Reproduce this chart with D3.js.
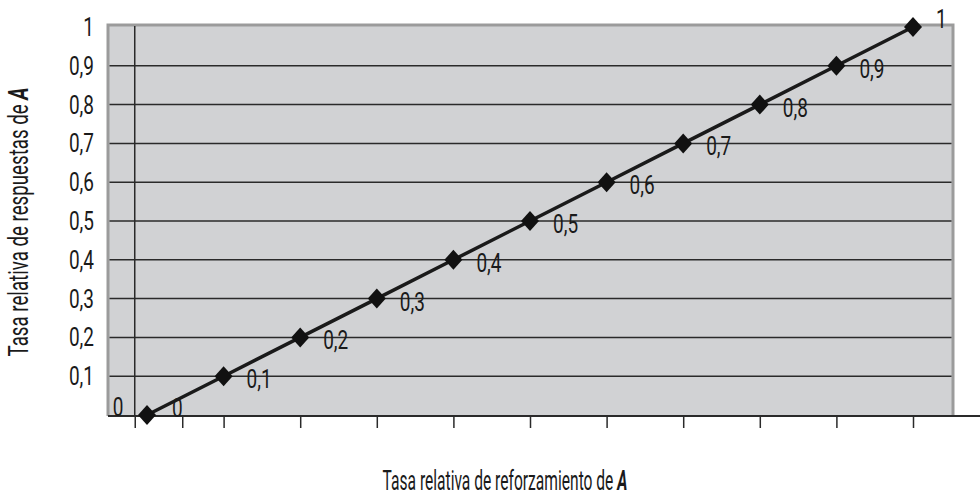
<!DOCTYPE html>
<html><head><meta charset="utf-8">
<script src="https://cdn.jsdelivr.net/npm/d3@7"></script>
<style>
html,body{margin:0;padding:0;background:#fff;}
svg{display:block;}
text{font-family:Roboto,"DejaVu Sans Condensed",sans-serif;fill:#1a1a1a;}
</style></head>
<body>
<svg id="c" width="980" height="497"></svg>
<script>
// Data
const xValues = [0, 0.1, 0.2, 0.3, 0.4, 0.5, 0.6, 0.7, 0.8, 0.9, 1];
const yValues = [0, 0.1, 0.2, 0.3, 0.4, 0.5, 0.6, 0.7, 0.8, 0.9, 1];
const pointLabels = ["0", "0,1", "0,2", "0,3", "0,4", "0,5", "0,6", "0,7", "0,8", "0,9", "1"];
const yTickValues = [0, 0.1, 0.2, 0.3, 0.4, 0.5, 0.6, 0.7, 0.8, 0.9, 1];
const yTickLabels = ["0", "0,1", "0,2", "0,3", "0,4", "0,5", "0,6", "0,7", "0,8", "0,9", "1"];
const xTickValues = [-0.016, 0.046, 0.1, 0.2, 0.3, 0.4, 0.5, 0.6, 0.7, 0.8, 0.9, 1];
const xTitle = "Tasa relativa de reforzamiento de ";
const yTitle = "Tasa relativa de respuestas de ";
const titleVar = "A";

const svg = d3.select("#c");
const plot = {left: 108, right: 953, top: 25, bottom: 416};
const SX = 0.76;      // horizontal condensing of the label font
const FS = 25;

const x = d3.scaleLinear().domain([0, 1]).range([147, 913]);
const y = d3.scaleLinear().domain([0, 1]).range([415, 27]);

// condensed text helper
function ctext(parent, px, py, str, anchor) {
  const g = parent.append("g").attr("transform", `translate(${px},${py}) scale(${SX},1)`);
  g.append("text").attr("text-anchor", anchor).attr("dy", "0.36em")
    .attr("font-size", FS).attr("font-weight", 400).text(str);
  return g;
}

// plot background
svg.append("rect").attr("x", plot.left).attr("y", plot.top)
  .attr("width", plot.right - plot.left).attr("height", plot.bottom - plot.top)
  .attr("fill", "#d1d2d4");
// gray frame (left, top, right)
svg.append("path")
  .attr("d", `M${plot.left},${plot.bottom}V${plot.top}H${plot.right}V${plot.bottom}`)
  .attr("fill", "none").attr("stroke", "#9b9b9b").attr("stroke-width", 3);

// horizontal gridlines
svg.append("g").selectAll("line").data(yTickValues.filter(d => d > 0 && d < 1)).join("line")
  .attr("x1", plot.left + 1.5).attr("x2", plot.right - 1.5)
  .attr("y1", d => y(d)).attr("y2", d => y(d))
  .attr("stroke", "#2a2a2a").attr("stroke-width", 1.5);

// x axis (bottom line + ticks)
const xAxis = d3.axisBottom(x).tickValues(xTickValues).tickSize(12).tickFormat("");
const gx = svg.append("g").attr("transform", `translate(0,${plot.bottom})`).call(xAxis);
gx.select(".domain").remove();
gx.selectAll(".tick line").attr("stroke", "#2a2a2a").attr("stroke-width", 1.5);
svg.append("line").attr("x1", plot.left).attr("x2", 980)
  .attr("y1", plot.bottom).attr("y2", plot.bottom)
  .attr("stroke", "#2a2a2a").attr("stroke-width", 2);

// vertical axis line
svg.append("line").attr("x1", x(-0.016)).attr("x2", x(-0.016))
  .attr("y1", plot.top + 1).attr("y2", plot.bottom)
  .attr("stroke", "#2a2a2a").attr("stroke-width", 1.5);

// y tick labels
const gy = svg.append("g");
yTickValues.forEach((v, i) => {
  if (v === 0) ctext(gy, 118, y(v) - 8, yTickLabels[i], "middle");
  else ctext(gy, 94, y(v), yTickLabels[i], "end");
});

// line
const pts = xValues.map((v, i) => [v, yValues[i]]);
svg.append("path").datum(pts)
  .attr("d", d3.line().x(d => x(d[0])).y(d => y(d[1])))
  .attr("fill", "none").attr("stroke", "#1a1a1a").attr("stroke-width", 3.5);

// diamonds
svg.append("g").selectAll("path").data(pts).join("path")
  .attr("transform", d => `translate(${x(d[0])},${y(d[1])})`)
  .attr("d", "M0,-10L9,0L0,10L-9,0Z")
  .attr("fill", "#111");

// point labels
const gl = svg.append("g");
pts.forEach((d, i) => {
  const last = i === pts.length - 1;
  const dy = i === 0 ? -7 : (last ? -8 : 3);
  const dx = i === 0 ? 25 : 23;
  ctext(gl, x(d[0]) + dx, y(d[1]) + dy, pointLabels[i], "start");
});

// axis titles (fit to width)
function title(tr, str, target) {
  const g = svg.append("g").attr("transform", tr);
  const t = g.append("text").attr("text-anchor", "middle").attr("font-size", 27)
    .attr("font-weight", 400);
  t.append("tspan").text(str);
  t.append("tspan").attr("font-weight", "bold").attr("font-style", "italic").text(titleVar);
  const w = t.node().getComputedTextLength();
  t.attr("transform", `scale(${target / w},1)`);
}
title("translate(505,490)", xTitle, 245);
title("translate(28,222) rotate(-90)", yTitle, 269);
</script>
</body></html>
